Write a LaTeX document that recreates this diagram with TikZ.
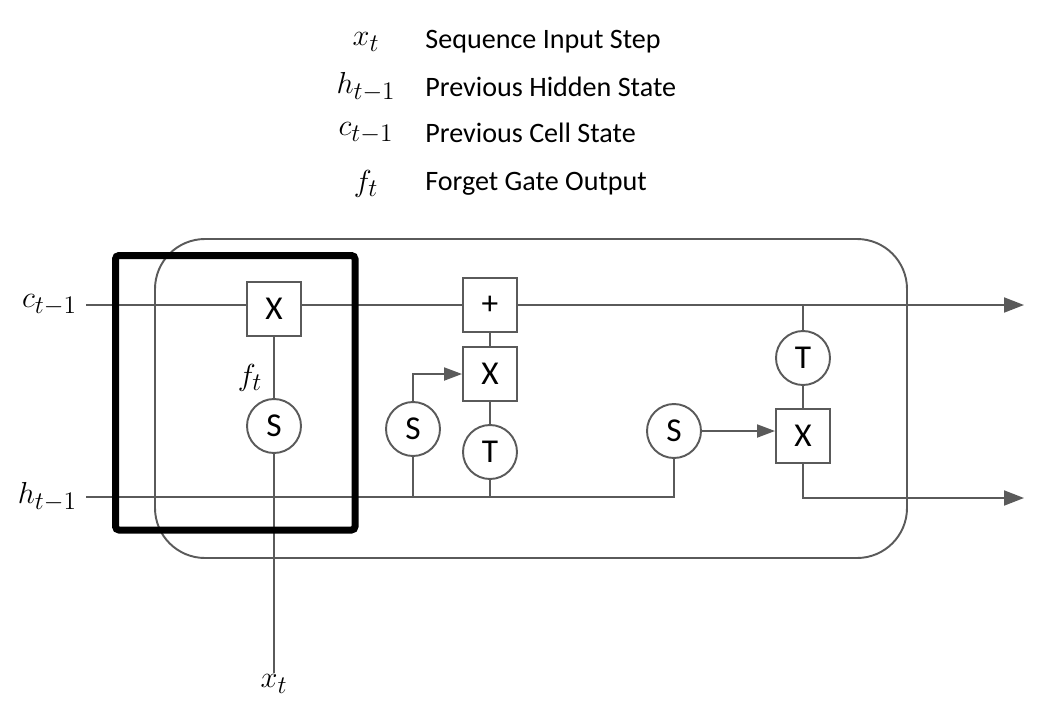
\documentclass[tikz,border=0pt]{standalone}
\usepackage{fontspec}
\setmainfont{Carlito}
\usepackage{tikz}
\usetikzlibrary{arrows.meta,calc,positioning}
\definecolor{wire}{HTML}{5A5A5A}
\tikzset{
    mygate/.style={draw=wire,line width=1.1pt,rectangle,minimum size=1.08cm,inner sep=0pt,font=\fontsize{19}{22}\selectfont},
    mylayer/.style={draw=wire,line width=1.1pt,circle,minimum size=1.08cm,inner sep=0pt,font=\fontsize{19}{22}\selectfont},
    mywire/.style={draw=wire,line width=1.1pt},
    myarrow/.style={mywire,-{Triangle[length=0.36cm,width=0.26cm]}},
    mylabel/.style={inner sep=1pt,font=\fontsize{19}{22}\selectfont},
    every node/.style={font=\fontsize{16}{19}\selectfont}
}

\begin{document}
\begin{tikzpicture}[x=0.02cm,y=-0.02cm]
  \useasboundingbox (0,0) rectangle (1042,714);

  % legend
  \foreach \i/\y/\sym/\txt in {1/42/x_t/Sequence Input Step,
                               2/87/h_{t-1}/Previous Hidden State,
                               3/133/c_{t-1}/Previous Cell State,
                               4/184/f_t/Forget Gate Output}{
    \node[mylabel] (sym\i) at (366,\y) {$\sym$};
    \node[anchor=west,inner sep=0pt] (desc\i) at (425,\y) {\txt};
  }

  % cell outline
  \draw[wire,line width=1.1pt,rounded corners=1cm] (155,239) rectangle (907,558);

  % inputs and outputs
  \node[mylabel,anchor=east,inner sep=5pt] (cin) at (86,305) {$c_{t-1}$};
  \node[mylabel,anchor=east,inner sep=5pt] (hin) at (86,497) {$h_{t-1}$};
  \node[mylabel] (xin) at (274,684) {$x_t$};
  \coordinate (cout) at (1024,305);
  \coordinate (hout) at (1024,498);

  % forget gate
  \node[mygate] (fx) at (274,309) {X};
  \node[mylayer] (fs) at (274,426) {S};
  \node[mylabel] (ft) at (250,378) {$f_t$};

  % input gate
  \node[mygate] (add) at (490,305) {+};
  \node[mygate] (ix) at (490,374) {X};
  \node[mylayer] (is) at (413,429) {S};
  \node[mylayer] (it) at (490,452) {T};

  % output gate
  \node[mylayer] (os) at (674,431) {S};
  \node[mylayer] (ot) at (803,358) {T};
  \node[mygate] (ox) at (803,436) {X};

  % cell state
  \draw[mywire] (cin.east) -- (cin.east -| fx.west);
  \draw[mywire] (cin.east -| fx.east) -- (add.west);
  \draw[myarrow,-{Triangle[length=0.4cm,width=0.3cm]}] (add.east) -- (cout);
  \draw[mywire] (fx) -- (fs);
  \draw[mywire] (fs) -- (xin);
  \draw[mywire] (ix) -- (add);
  \draw[mywire] (it) -- (ix);
  \draw[mywire] (ot.north) -- (ot |- add);
  \draw[mywire] (ot) -- (ox);

  % hidden state
  \draw[mywire] (hin.east) -| (os.south);
  \draw[mywire] (is.south) -- (is.south |- hin.east);
  \draw[mywire] (it.south) -- (it.south |- hin.east);
  \draw[myarrow] (is.north) |- (ix.west);
  \draw[myarrow] (os.east) -- (os.east -| ox.west);
  \draw[myarrow,-{Triangle[length=0.4cm,width=0.3cm]}] (ox.south) |- (hout);

  % highlight
  \draw[black,line width=0.14cm,rounded corners=2pt] (115.5,255.5) rectangle (355,530);
\end{tikzpicture}
\end{document}
